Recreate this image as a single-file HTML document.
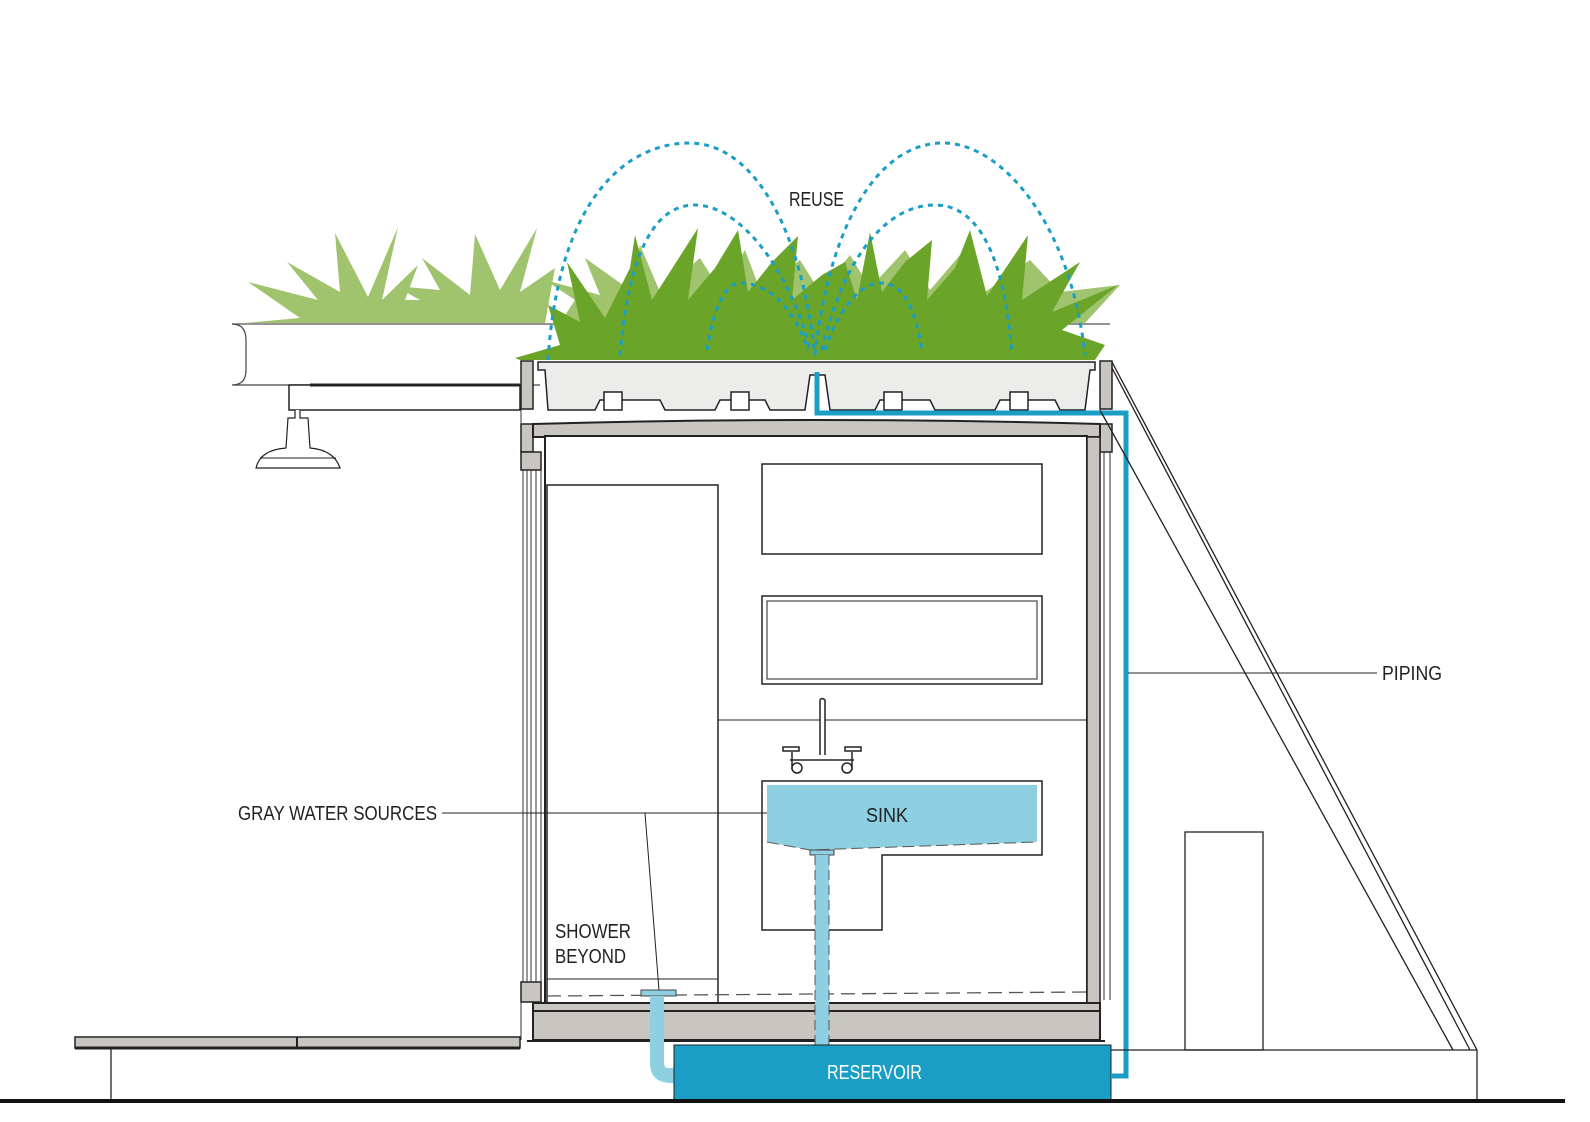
<!DOCTYPE html>
<html><head><meta charset="utf-8"><style>
html,body{margin:0;padding:0;background:#fff;overflow:hidden;width:1590px;height:1122px}
svg{display:block}
text{font-family:"Liberation Sans Narrow","Liberation Sans",sans-serif;font-size:20px;fill:#222}
</style></head><body>
<svg width="1590" height="1122" viewBox="0 0 1590 1122" xmlns="http://www.w3.org/2000/svg">
<polygon fill="#a0c46d" points="245,323 300,318 248,282 318,300 287,262 340,292 335,233 368,297 398,227 382,300 418,265 405,300 420,300 395,286 440,290 422,258 470,295 475,234 500,290 537,228 520,292 555,268 545,323"/>
<polygon fill="#a0c46d" points="560,323 575,300 545,280 600,295 585,258 630,290 640,245 660,292 700,258 720,290 745,250 760,290 800,260 820,292 850,255 870,288 905,250 930,290 960,255 985,292 1030,260 1060,292 1120,285 1085,323"/>
<line x1="232" y1="324" x2="1110" y2="324" stroke="#555" stroke-width="1.2"/>
<polygon fill="#6aa428" points="515,358 560,345 548,305 580,322 567,262 605,318 630,268 635,235 652,300 698,228 688,300 715,268 738,230 748,292 772,262 798,236 792,300 822,275 845,262 857,300 870,232 882,292 905,262 932,240 927,300 955,268 970,230 987,296 1028,235 1022,300 1080,262 1052,312 1118,285 1062,330 1105,345 1095,360 520,360"/>
<g fill="none" stroke="#1a9ec5" stroke-width="3" stroke-dasharray="5,5">
<path d="M548,360 C560,180 640,143 689,143 C750,143 800,220 815,355"/>
<path d="M815,355 C830,220 880,143 943,143 C1000,143 1070,220 1085,355"/>
<path d="M620,355 C630,240 660,205 695,205 C740,205 790,270 810,350"/>
<path d="M822,350 C840,270 880,205 935,205 C980,205 1005,260 1012,355"/>
<path d="M707,350 C715,300 728,283 740,283 C770,283 795,310 808,350"/>
<path d="M825,350 C838,310 860,283 880,283 C905,283 915,310 922,350"/>
</g>
<path d="M232,324 Q246,324 246,340 L246,370 Q246,385 232,385 L540,385" fill="none" stroke="#444" stroke-width="1.2"/>
<rect x="289" y="385" width="231" height="25" fill="#fff" stroke="#222" stroke-width="1.5"/>
<line x1="310" y1="385" x2="520" y2="385" stroke="#222" stroke-width="3"/>
<path d="M295,410 L295,418 L288,418 L286,448 Q260,450 256,468 L340,468 Q334,450 310,448 L308,418 L300,418 L300,410" fill="#fff" stroke="#222" stroke-width="1.2"/>
<line x1="260" y1="458" x2="336" y2="458" stroke="#222" stroke-width="1"/>
<path d="M538,362 L1095,362 L1095,370 L1090,370 L1085,410 L1060,410 L1055,400 L1000,400 L995,410 L935,410 L930,400 L880,400 L875,410 L830,410 L825,375 L810,375 L805,410 L770,410 L765,400 L720,400 L715,410 L665,410 L660,400 L600,400 L595,410 L548,410 L545,370 L538,370 Z" fill="#ececea" stroke="#222" stroke-width="1.5"/>
<rect x="604" y="392" width="18" height="18" fill="#fff" stroke="#222" stroke-width="1.5"/>
<rect x="731" y="392" width="18" height="18" fill="#fff" stroke="#222" stroke-width="1.5"/>
<rect x="884" y="392" width="18" height="18" fill="#fff" stroke="#222" stroke-width="1.5"/>
<rect x="1010" y="392" width="18" height="18" fill="#fff" stroke="#222" stroke-width="1.5"/>
<rect x="521" y="361" width="12" height="48" fill="#c9c6c2" stroke="#222" stroke-width="1.5"/>
<rect x="1100" y="361" width="12" height="48" fill="#c9c6c2" stroke="#222" stroke-width="1.5"/>
<rect x="521" y="424" width="12" height="28" fill="#c9c6c2" stroke="#222" stroke-width="1.5"/>
<rect x="1100" y="424" width="12" height="28" fill="#c9c6c2" stroke="#222" stroke-width="1.5"/>
<rect x="521" y="452" width="20" height="18" fill="#c9c6c2" stroke="#222" stroke-width="1.5"/>
<rect x="521" y="982" width="20" height="20" fill="#c9c6c2" stroke="#222" stroke-width="1.5"/>
<g stroke="#333" stroke-width="1" fill="none">
<line x1="523" y1="470" x2="523" y2="982"/><line x1="527" y1="470" x2="527" y2="982"/><line x1="531" y1="470" x2="531" y2="982"/><line x1="536" y1="470" x2="536" y2="982"/><line x1="541" y1="470" x2="541" y2="982"/>
<line x1="521" y1="409" x2="521" y2="424"/><line x1="1110" y1="452" x2="1110" y2="1000"/><line x1="1104" y1="452" x2="1104" y2="1000"/>
<line x1="521" y1="1002" x2="521" y2="1040"/>
</g>
<path d="M533,424 Q815,416 1100,424 L1100,437 L533,437 Z" fill="#c9c6c2" stroke="#222" stroke-width="2"/>
<rect x="545" y="436" width="542" height="567" fill="#fff" stroke="#222" stroke-width="2"/>
<rect x="1087" y="437" width="13" height="566" fill="#c9c6c2" stroke="#222" stroke-width="1.5"/>
<rect x="533" y="1003" width="567" height="8" fill="#c9c6c2" stroke="#222" stroke-width="2"/>
<rect x="533" y="1011" width="567" height="29" fill="#c9c6c2" stroke="#222" stroke-width="2"/>
<line x1="527" y1="1041" x2="1105" y2="1041" stroke="#222" stroke-width="2"/>
<rect x="547" y="485" width="171" height="518" fill="none" stroke="#222" stroke-width="1.5"/>
<line x1="547" y1="979" x2="718" y2="979" stroke="#222" stroke-width="1"/>
<rect x="762" y="464" width="280" height="90" fill="none" stroke="#222" stroke-width="1.5"/>
<rect x="762" y="596" width="280" height="88" fill="none" stroke="#222" stroke-width="1.5"/>
<rect x="767" y="601" width="270" height="78" fill="none" stroke="#222" stroke-width="1"/>
<line x1="718" y1="720" x2="1087" y2="720" stroke="#222" stroke-width="1"/>
<line x1="547" y1="996" x2="1087" y2="992" stroke="#555" stroke-width="1.3" stroke-dasharray="14,7"/>
<g stroke="#222" stroke-width="1.5" fill="#fff">
<path d="M820,755 L820,700 Q822,697 825,700 L825,755"/>
<line x1="790" y1="760" x2="854" y2="760"/>
<rect x="783" y="747" width="16" height="4"/><rect x="845" y="747" width="16" height="4"/>
<path d="M792,752 L792,770 M852,752 L852,770"/>
<circle cx="797" cy="768" r="5"/><circle cx="847" cy="768" r="5"/>
</g>
<path d="M762,781 L1042,781 L1042,855 L882,855 L882,930 L762,930 Z" fill="#fff" stroke="#222" stroke-width="1.5"/>
<path d="M767,785 L1037,785 L1037,842 L810,850 L767,842 Z" fill="#8ed0e2"/>
<path d="M767,842 L810,850 L1037,842" fill="none" stroke="#555" stroke-dasharray="12,5"/>
<rect x="810" y="850" width="24" height="5" fill="#8ed0e2" stroke="#444" stroke-width="1"/>
<rect x="815" y="855" width="14" height="192" fill="#8ed0e2"/>
<line x1="815" y1="855" x2="815" y2="1045" stroke="#555" stroke-dasharray="10,5"/>
<line x1="829" y1="855" x2="829" y2="1045" stroke="#555" stroke-dasharray="10,5"/>
<rect x="641" y="990" width="35" height="6" fill="#8ed0e2" stroke="#444" stroke-width="1"/>
<path d="M650,996 L650,1063 Q650,1083 672,1083 L680,1083 L680,1068 L668,1068 Q664,1068 664,1063 L664,996 Z" fill="#8ed0e2"/>
<rect x="674" y="1045" width="437" height="55" fill="#1a9ec5" stroke="#222" stroke-width="1"/>
<text x="827" y="1079" textLength="95" lengthAdjust="spacingAndGlyphs" style="fill:#fff">RESERVOIR</text>
<path d="M817,372 L817,413 L1126,413 L1126,1076 L1111,1076" fill="none" stroke="#1a9ec5" stroke-width="5"/>
<g stroke="#222" stroke-width="1.3" fill="none">
<line x1="1112" y1="362" x2="1477" y2="1050"/>
<line x1="1112" y1="368" x2="1470" y2="1050"/>
<line x1="1100" y1="410" x2="1453" y2="1050"/>
<line x1="1111" y1="1050" x2="1477" y2="1050"/>
<line x1="1477" y1="1050" x2="1477" y2="1100"/>
<rect x="1185" y="832" width="78" height="218"/>
<line x1="111" y1="1048" x2="111" y2="1100"/>
</g>
<rect x="75" y="1037" width="445" height="11" fill="#c9c6c2" stroke="#222" stroke-width="1.5"/>
<line x1="297" y1="1037" x2="297" y2="1048" stroke="#222" stroke-width="2"/>
<line x1="75" y1="1048" x2="520" y2="1048" stroke="#222" stroke-width="3"/>
<line x1="0" y1="1101" x2="1565" y2="1101" stroke="#111" stroke-width="4"/>
<g stroke="#222" stroke-width="1">
<line x1="442" y1="813" x2="767" y2="813"/>
<line x1="645" y1="813" x2="659" y2="990"/>
<line x1="1128" y1="673" x2="1377" y2="673"/>
</g>
<text x="789" y="206" textLength="55" lengthAdjust="spacingAndGlyphs">REUSE</text>
<text x="1382" y="680" textLength="60" lengthAdjust="spacingAndGlyphs">PIPING</text>
<text x="238" y="820" textLength="199" lengthAdjust="spacingAndGlyphs">GRAY WATER SOURCES</text>
<text x="866" y="822" textLength="42" lengthAdjust="spacingAndGlyphs">SINK</text>
<text x="555" y="938" textLength="76" lengthAdjust="spacingAndGlyphs">SHOWER</text>
<text x="555" y="963" textLength="71" lengthAdjust="spacingAndGlyphs">BEYOND</text>
</svg>
</body></html>
